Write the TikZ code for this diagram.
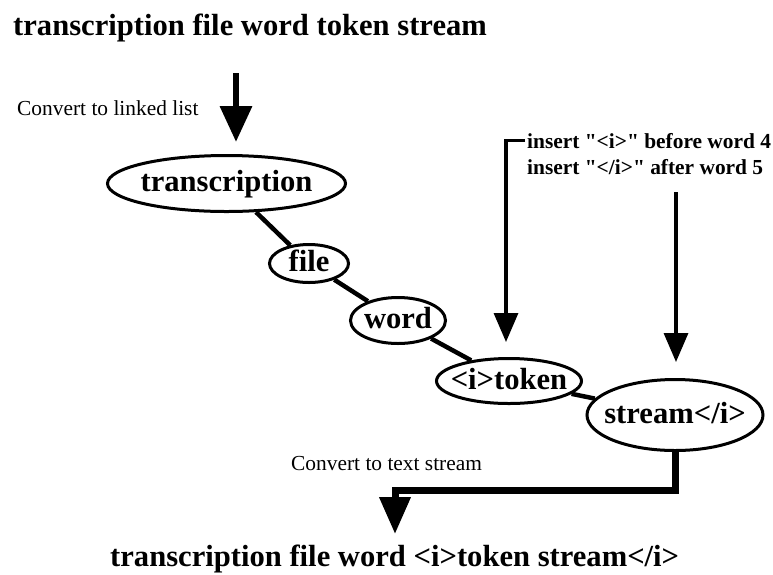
\documentclass[tikz,border=0pt]{standalone}
\usepackage{fontspec}
\setmainfont{Liberation Serif}[Ligatures=TeXOff]
\usetikzlibrary{arrows.meta,shapes.geometric}
\newcommand{\bigfont}{\fontsize{30.6pt}{36pt}\selectfont\bfseries}
\newcommand{\smallfont}{\fontsize{21.4pt}{25pt}\selectfont}
\begin{document}
\begin{tikzpicture}[x=1pt,y=-1pt,
  ell/.style={draw, ellipse, line width=3pt, inner sep=0pt, text height=21pt, text depth=5pt, font=\bigfont},
  conn/.style={line width=4.5pt},
  bigarr/.style={line width=6.5pt, -{Triangle[length=36pt,width=31pt]}},
  thinarr/.style={line width=3.3pt, -{Triangle[length=29pt,width=24pt]}},
  txt/.style={inner sep=0pt, anchor=base west}]
\useasboundingbox (0,0) rectangle (773,574);

% list nodes
\node[ell, minimum width=238pt, minimum height=56pt] (tr) at (226.5,183.5) {\makebox[0pt]{transcription}};
\node[ell, minimum width=79pt, minimum height=38pt] (fi) at (309,263.5) {\makebox[0pt]{file}};
\node[ell, minimum width=95pt, minimum height=46pt] (wo) at (398,320.5) {\makebox[0pt]{word}};
\node[ell, minimum width=145pt, minimum height=45pt] (to) at (509,381) {\makebox[0pt]{<i>token}};
\node[ell, minimum width=176pt, minimum height=71pt] (st) at (675,415) {\makebox[0pt]{stream</i>}};

\draw[conn] (tr) -- (fi);
\draw[conn] (fi) -- (wo);
\draw[conn] (wo) -- (to);
\draw[conn] (to) -- (st);

% texts
\node[txt, font=\bigfont] (title) at (13,35) {transcription file word token stream};
\node[txt, font=\smallfont] (ctl) at (17,115) {Convert to linked list};
\node[txt, font=\smallfont\bfseries] (ins1) at (527,148) {insert "<i>" before word 4};
\node[txt, font=\smallfont\bfseries] (ins2) at (527,174) {insert "</i>" after word 5};
\node[txt, font=\smallfont] (cts) at (291,470) {Convert to text stream};
\node[txt, font=\bigfont] (out) at (110,566) {transcription file word <i>token stream</i>};

% arrows
\coordinate (a1s) at (236,73);
\coordinate (a1e) at (236,142);
\draw[bigarr] (a1s) -- (a1e);

\coordinate (a2e) at (506,342);
\draw[thinarr] ([xshift=-2pt]ins1.west) -| (a2e);

\coordinate (a3s) at (676,192);
\coordinate (a3e) at (676,362);
\draw[thinarr] (a3s) -- (a3e);

\coordinate (bend) at (395,490);
\coordinate (a4e) at (395,534);
\draw[line width=7pt, -{Triangle[length=37pt,width=30pt]}] (st.south) |- (bend) -- (a4e);
\end{tikzpicture}
\end{document}
